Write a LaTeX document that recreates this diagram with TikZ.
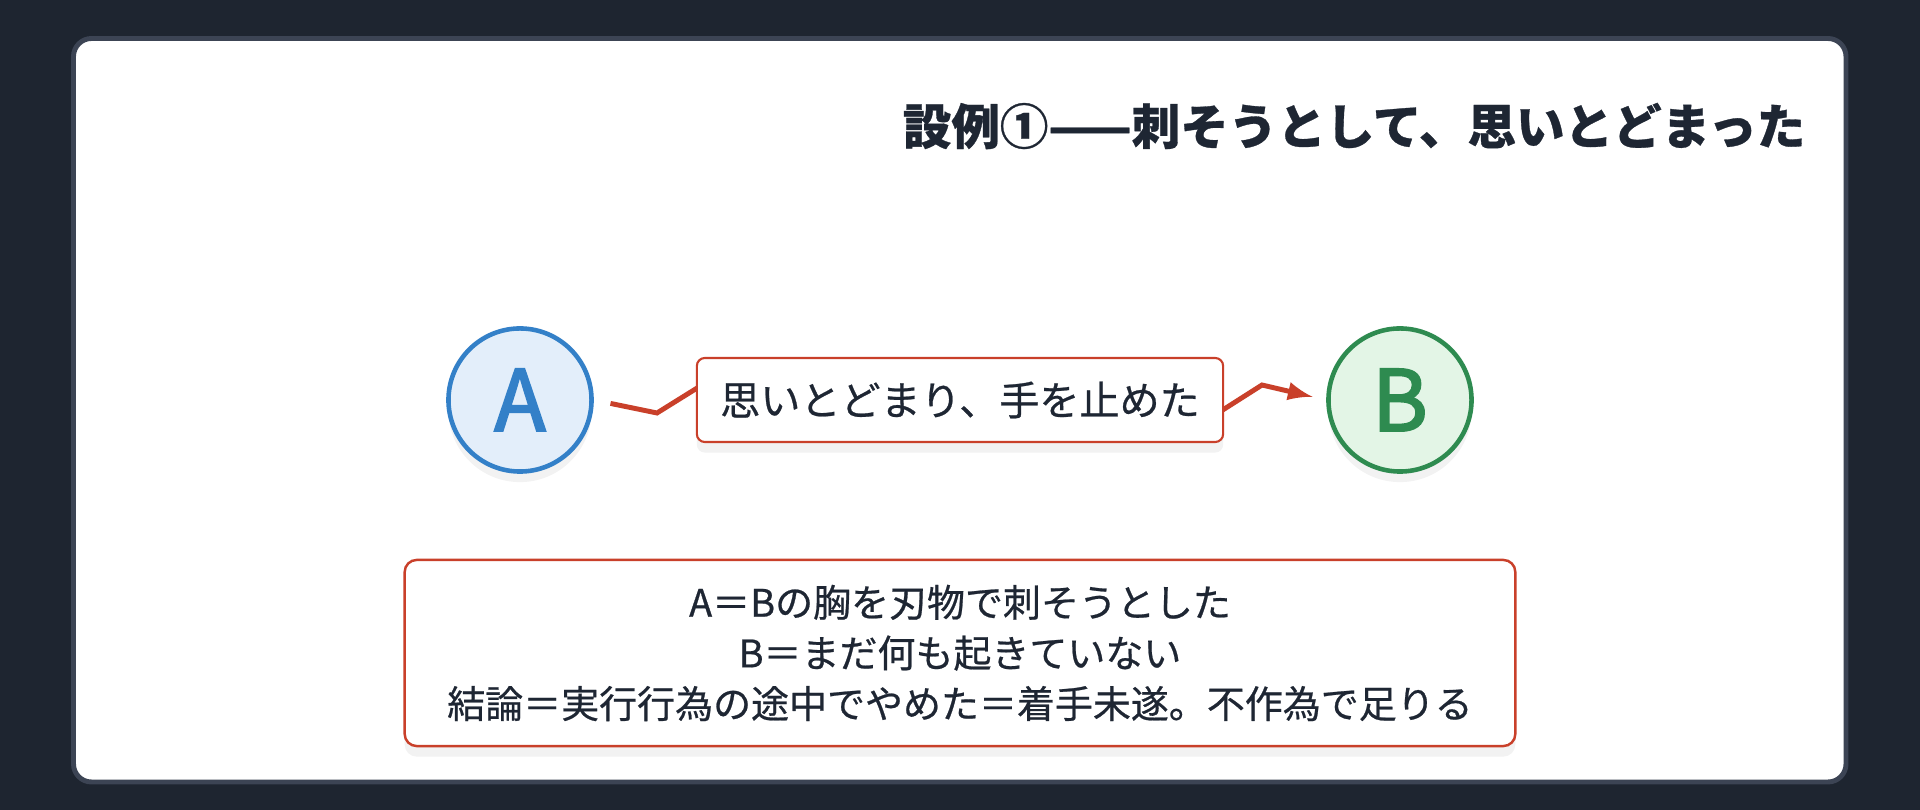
\documentclass[tikz,border=0pt]{standalone}
\usepackage{fontspec}
\setmainfont{Noto Sans CJK JP}[FakeBold=0.6]
\newfontfamily\letterfont{Noto Sans CJK JP}[FakeBold=2.5]
\usetikzlibrary{shadows}

\definecolor{bgdark}{HTML}{1E2530}
\definecolor{panelrim}{HTML}{3C4454}
\definecolor{inkdark}{HTML}{1E2633}
\definecolor{actorblue}{HTML}{3380C8}
\definecolor{actorbluefill}{HTML}{E3EEFA}
\definecolor{actorgreen}{HTML}{2E8B50}
\definecolor{actorgreenfill}{HTML}{E3F5E6}
\definecolor{cutred}{HTML}{C9402A}

\begin{document}
\begin{tikzpicture}[x=0.01cm, y=-0.01cm, >=latex,
  softshadow/.style={drop shadow={opacity=0.10, shadow xshift=0pt, shadow yshift=-3pt}},
  actor/.style={circle, minimum size=1.43cm, line width=1.3pt, softshadow,
    font=\letterfont\fontsize{24}{28}\selectfont},
  notebox/.style={draw=cutred, fill=white, line width=0.6pt, text=inkdark, softshadow,
    font=\fontsize{11}{14.4}\selectfont}]

% dark backdrop and the white panel
\fill[bgdark] (0,0) rectangle (1920,810);
\draw[panelrim, fill=white, line width=1.4pt, rounded corners=0.18cm] (73.5,38.5) rectangle (1846,782);

% title
\node[anchor=east, inner sep=0pt, text=inkdark, font=\fontsize{13.8}{16}\selectfont\bfseries] (title) at (1806,126) {設例①——刺そうとして、思いとどまった};

% the two people
\node[actor, draw=actorblue, fill=actorbluefill, text=actorblue] (A) at (520,400) {A};
\node[actor, draw=actorgreen, fill=actorgreenfill, text=actorgreen] (B) at (1400,400) {B};

% the attack that was broken off
\coordinate (dip1) at (657,413);
\coordinate (peak1) at (702,385);
\coordinate (dip2) at (1218,413);
\coordinate (peak2) at (1262,385);
\draw[->, cutred, line width=1.4pt, shorten <=0.17cm, shorten >=0.14cm]
  (A.east) -- (dip1) -- (peak1) -- (dip2) -- (peak2) -- (B.west);
\node[notebox, minimum width=5.26cm, minimum height=0.84cm, rounded corners=0.08cm, font=\fontsize{11.4}{14}\selectfont] (stop) at (960,400) {思いとどまり、手を止めた};

% summary
\node[notebox, minimum width=11.1cm, minimum height=1.86cm, rounded corners=0.12cm, line width=0.7pt, align=center, font=\fontsize{10.8}{14.4}\selectfont] (summary) at (960,653)
  {A＝Bの胸を刃物で刺そうとした\\B＝まだ何も起きていない\\結論＝実行行為の途中でやめた＝着手未遂。不作為で足りる};
\end{tikzpicture}
\end{document}
